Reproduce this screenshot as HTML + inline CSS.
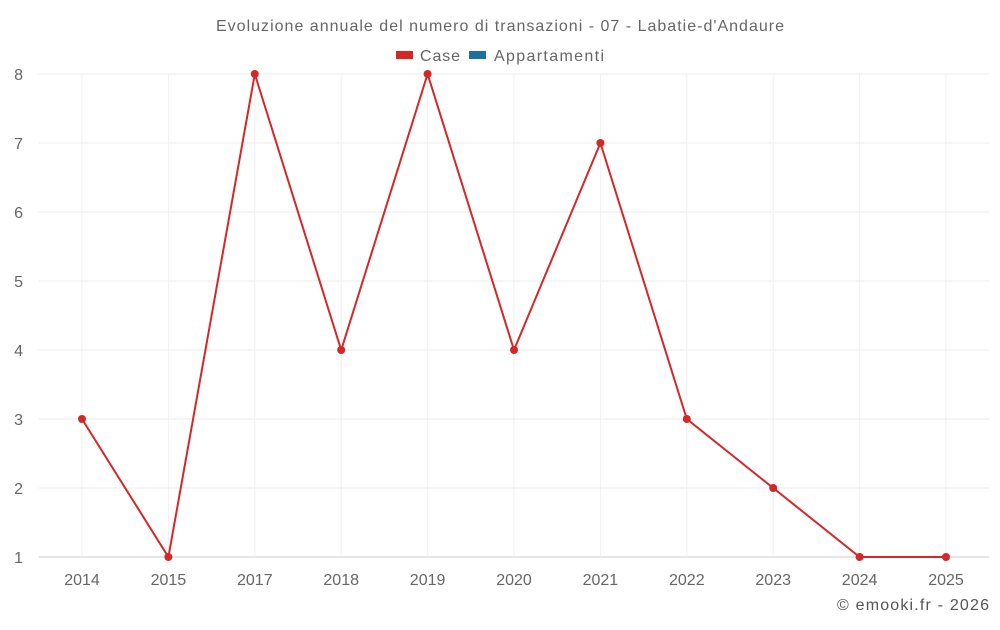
<!DOCTYPE html>
<html><head><meta charset="utf-8"><style>
body{margin:0;background:#fff;font-family:"Liberation Sans",sans-serif}
svg text{font-family:"Liberation Sans",sans-serif}
</style></head><body>
<svg width="1000" height="625">
<text x="500" y="31" text-anchor="middle" font-size="16" fill="#666" textLength="568" lengthAdjust="spacing">Evoluzione annuale del numero di transazioni - 07 - Labatie-d'Andaure</text>
<g>
<rect x="396" y="51" width="17" height="8" fill="#d62728"/>
<text x="420" y="61" font-size="16" fill="#666" textLength="40" lengthAdjust="spacing">Case</text>
<rect x="469" y="51" width="17" height="8" fill="#1f6fa0"/>
<text x="494" y="61" font-size="16" fill="#666" textLength="110" lengthAdjust="spacing">Appartamenti</text>
</g>
<g id="grid"></g><g id="axes"></g><g id="series"></g>
<text x="989" y="610" text-anchor="end" font-size="16" fill="#555" textLength="152" lengthAdjust="spacing">© emooki.fr - 2026</text>
</svg>
<script>
const categories=["2014","2015","2017","2018","2019","2020","2021","2022","2023","2024","2025"];
const caseValues=[3,1,8,4,8,4,7,3,2,1,1];
const yTicks=[1,2,3,4,5,6,7,8];
const L=38.8,R=989.2,T=74,B=557,ymin=1,ymax=8;
const step=(R-L)/categories.length;
const xs=i=>L+step*(i+0.5);
const ys=v=>B-(v-ymin)/(ymax-ymin)*(B-T);
const NS="http://www.w3.org/2000/svg";
function mk(p,t,a){const e=document.createElementNS(NS,t);for(const k in a)e.setAttribute(k,a[k]);p.appendChild(e);return e;}
const g=document.getElementById('grid'),ax=document.getElementById('axes'),s=document.getElementById('series');
yTicks.forEach(v=>{
 const l=mk(g,'line',{x1:L,x2:R,y1:ys(v),y2:ys(v),stroke:v===ymin?'#ccc':'#ebebeb'});
 
 
 const t=mk(ax,'text',{x:23,y:ys(v)+6,'text-anchor':'end','font-size':16,fill:'#666'});t.textContent=v;
 
 
});
categories.forEach((c,i)=>{
 const l=mk(g,'line',{x1:xs(i),x2:xs(i),y1:T,y2:B,stroke:'#f0f0f0'});
 
 
 const t=mk(ax,'text',{x:xs(i),y:585,'text-anchor':'middle','font-size':16,fill:'#666'});t.textContent=c;
 
 
});
const pl=mk(s,'polyline',{points:caseValues.map((v,i)=>xs(i)+','+ys(v)).join(' '),fill:'none',stroke:'#d62728','stroke-width':2});


caseValues.forEach((v,i)=>{
 const c=mk(s,'circle',{cx:xs(i),cy:ys(v),r:4,fill:'#d62728'});
 
 
});
</script>
</body></html>
